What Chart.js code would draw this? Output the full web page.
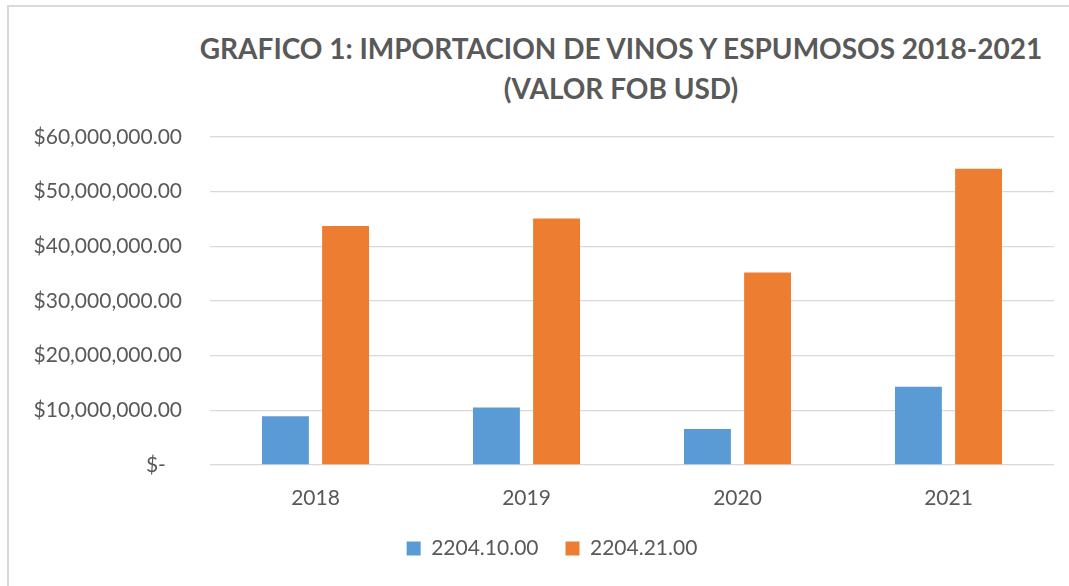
<!DOCTYPE html>
<html>
<head>
<meta charset="utf-8">
<script src="https://cdn.jsdelivr.net/npm/chart.js@4"></script>
<style>
  body { margin: 0; background: #fff; }
  #wrap { position: relative; width: 1069px; height: 586px; overflow: hidden; }
  #frame { position: absolute; left: 7px; top: 5px; width: 1100px; height: 620px; border: 2px solid #d9d9d9; box-sizing: border-box; }
  #titulo { position: absolute; left: 121px; top: 28px; width: 1000px; text-align: center;
    font-family: Lato, sans-serif; font-weight: bold; font-size: 28px; line-height: 40px; color: #595959; }
  canvas { position: absolute; left: 0; top: 0; }
</style>
</head>
<body>
<div id="wrap">
  <div id="frame"></div>
  <div id="titulo">GRAFICO 1: IMPORTACION DE VINOS Y ESPUMOSOS 2018-2021<br>(VALOR FOB USD)</div>
  <canvas id="chart" width="1069" height="586"></canvas>
</div>
<script>
  // datos
  const anios = ["2018", "2019", "2020", "2021"];
  const vinos = [8900000, 10500000, 6600000, 14300000];        // 2204.10.00
  const espumosos = [43700000, 45100000, 35200000, 54200000];   // 2204.21.00

  const gris = "#595959";
  const fuente = { family: "Lato, sans-serif", size: 21 };

  function moneda(v) {
    if (v === 0) return "$-   ";
    return "$" + v.toLocaleString("en-US", { minimumFractionDigits: 2, maximumFractionDigits: 2 });
  }

  // la leyenda del original esta centrada un poco a la derecha
  const moverLeyenda = {
    id: "moverLeyenda",
    afterLayout(chart) {
      chart.legend.left += 50;
    }
  };

  new Chart(document.getElementById("chart"), {
    type: "bar",
    data: {
      labels: anios,
      datasets: [
        { label: "2204.10.00", data: vinos, backgroundColor: "#5B9BD5" },
        { label: "2204.21.00", data: espumosos, backgroundColor: "#ED7D31" }
      ]
    },
    options: {
      responsive: false,
      animation: false,
      layout: { padding: { top: 137, right: 15, bottom: 17, left: 0 } },
      datasets: { bar: { categoryPercentage: 0.57, barPercentage: 0.78 } },
      plugins: {
        tooltip: { enabled: false },
        legend: {
          position: "bottom",
          labels: {
            font: fuente, color: gris,
            boxWidth: 14, boxHeight: 14, padding: 27
          }
        }
      },
      scales: {
        x: {
          grid: { display: false },
          border: { display: false },
          ticks: { font: fuente, color: gris, padding: 13 },
          afterFit: s => { s.height = 46; }
        },
        y: {
          min: 0, max: 60000000,
          grid: { color: "#d9d9d9", lineWidth: 1.3, drawTicks: false },
          border: { display: false },
          ticks: { stepSize: 10000000, font: fuente, color: gris, padding: 28, callback: moneda },
          afterFit: s => { s.width = 210; }
        }
      }
    },
    plugins: [moverLeyenda]
  });
</script>
</body>
</html>
